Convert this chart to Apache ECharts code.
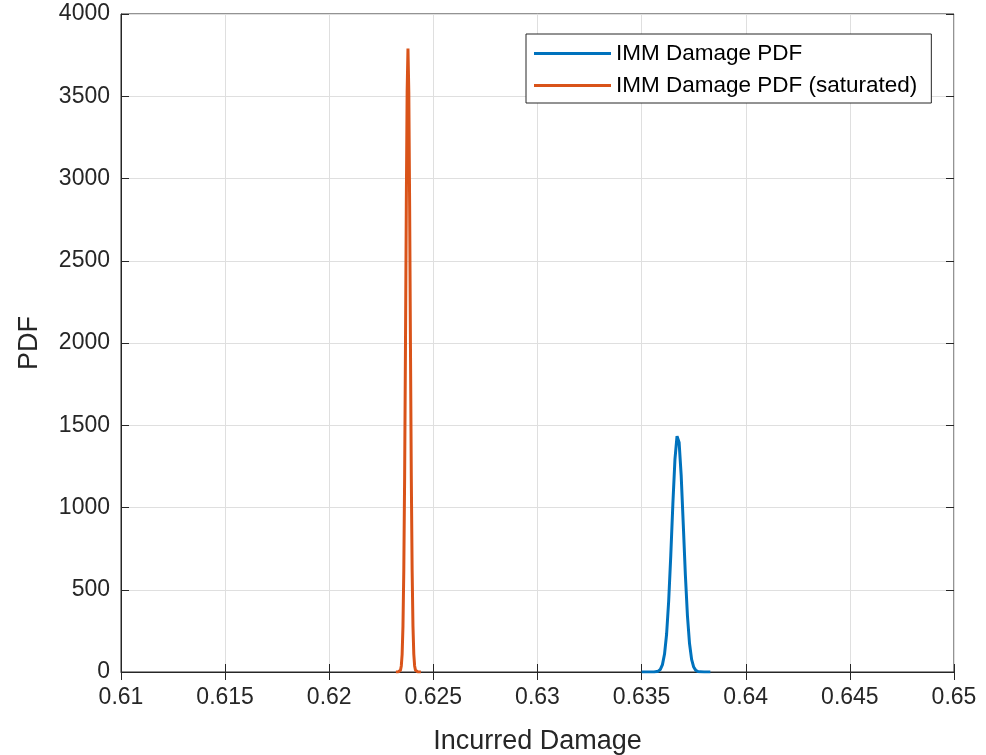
<!DOCTYPE html>
<html>
<head>
<meta charset="utf-8">
<script src="https://cdn.jsdelivr.net/npm/echarts@6/dist/echarts.min.js"></script>
<style>
  html, body { margin: 0; padding: 0; background: #ffffff; }
  #chart { width: 986px; height: 755px; }
</style>
</head>
<body>
<div id="chart"></div>
<script>
// IMM damage density (blue)
const immX = [0.6350, 0.6352, 0.6354, 0.6356, 0.6358, 0.6359, 0.6360, 0.6361, 0.6362, 0.6363,
              0.6364, 0.6365, 0.6366, 0.6367, 0.63673, 0.6368, 0.6369, 0.6370, 0.6371, 0.6372,
              0.6373, 0.6374, 0.6375, 0.6376, 0.6377, 0.6378, 0.6380, 0.6382, 0.6383];
const immY = [0, 0, 0.01, 0.35, 5.1, 16, 45, 109, 231, 433,
              709, 1021, 1292, 1434, 1442, 1396, 1194, 897, 591, 342,
              173, 77, 30, 10, 3.1, 0.8, 0.04, 0, 0];

// IMM damage density, saturated (orange)
const satX = [0.62320, 0.62330, 0.62334, 0.62338, 0.62342, 0.62346, 0.62350, 0.62354, 0.62358, 0.62362,
              0.62366, 0.62370, 0.62374, 0.62378, 0.62382, 0.62386, 0.62390, 0.62394, 0.62398, 0.62402,
              0.62406, 0.62410, 0.62414, 0.62418, 0.62422, 0.62426, 0.62430, 0.62440];
const satY = [0, 0.1, 0.6, 2.7, 10.6, 36.6, 108, 279, 619, 1187,
              1972, 2835, 3525, 3790, 3525, 2835, 1972, 1187, 619, 279,
              108, 36.6, 10.6, 2.7, 0.6, 0.1, 0, 0];

const seriesNames = ['IMM Damage PDF', 'IMM Damage PDF (saturated)'];
const xLabel = 'Incurred Damage';
const yLabel = 'PDF';
const xRange = [0.61, 0.65, 0.005];
const yRange = [0, 4000, 500];

const pairs = (xs, ys) => xs.map((x, i) => [x, ys[i]]);

const axisColor = '#262626';
const gridColor = '#dfdfdf';
const font = 'Liberation Sans, Arial, Helvetica, sans-serif';

const chart = echarts.init(document.getElementById('chart'), null, { renderer: 'canvas' });

// Mirror axes on top/right carry only the inward ticks of the boxed frame
const mirrorAxis = {
  type: 'value',
  axisLine: { show: false },
  axisLabel: { show: false },
  splitLine: { show: false },
  axisTick: { show: true, inside: true, length: 8, lineStyle: { color: axisColor, width: 1 } }
};

chart.setOption({
  animation: false,
  backgroundColor: '#ffffff',
  grid: {
    left: 121, top: 14, width: 833, height: 658,
    containLabel: false,
    outerBoundsMode: 'none',
    show: true, borderColor: axisColor, borderWidth: 1, backgroundColor: 'transparent'
  },
  legend: {
    data: seriesNames,
    orient: 'vertical',
    left: 526, top: 34,
    icon: 'rect',
    itemWidth: 77, itemHeight: 3,
    itemGap: 9,
    padding: [8, 14, 6, 8],
    borderColor: axisColor, borderWidth: 1,
    backgroundColor: '#ffffff',
    textStyle: { fontFamily: font, fontSize: 22.5, color: '#000000' }
  },
  xAxis: [
    {
      type: 'value',
      min: xRange[0], max: xRange[1], interval: xRange[2],
      name: xLabel, nameLocation: 'middle', nameGap: 56,
      nameTextStyle: { fontFamily: font, fontSize: 27, color: axisColor },
      axisLine: { show: true, lineStyle: { color: axisColor, width: 1 } },
      axisTick: { show: true, inside: true, length: 8, lineStyle: { color: axisColor } },
      axisLabel: {
        fontFamily: font, fontSize: 23, color: axisColor, margin: 14,
        formatter: v => String(+v.toFixed(3))
      },
      splitLine: { show: true, lineStyle: { color: gridColor, width: 1 } }
    },
    Object.assign({ position: 'top', min: xRange[0], max: xRange[1], interval: xRange[2] }, mirrorAxis)
  ],
  yAxis: [
    {
      type: 'value',
      min: yRange[0], max: yRange[1], interval: yRange[2],
      name: yLabel, nameLocation: 'middle', nameGap: 78,
      nameTextStyle: { fontFamily: font, fontSize: 27, color: axisColor },
      axisLine: { show: true, lineStyle: { color: axisColor, width: 1 } },
      axisTick: { show: true, inside: true, length: 8, lineStyle: { color: axisColor } },
      axisLabel: {
        fontFamily: font, fontSize: 23, color: axisColor, margin: 11,
        formatter: v => String(v)
      },
      splitLine: { show: true, lineStyle: { color: gridColor, width: 1 } }
    },
    Object.assign({ position: 'right', min: yRange[0], max: yRange[1], interval: yRange[2] }, mirrorAxis)
  ],
  series: [
    {
      name: seriesNames[0], type: 'line',
      data: pairs(immX, immY),
      showSymbol: false, smooth: false,
      lineStyle: { color: '#0072BD', width: 3 },
      itemStyle: { color: '#0072BD' }
    },
    {
      name: seriesNames[1], type: 'line',
      data: pairs(satX, satY),
      showSymbol: false, smooth: false,
      lineStyle: { color: '#D95319', width: 3 },
      itemStyle: { color: '#D95319' }
    }
  ]
});
</script>
</body>
</html>
